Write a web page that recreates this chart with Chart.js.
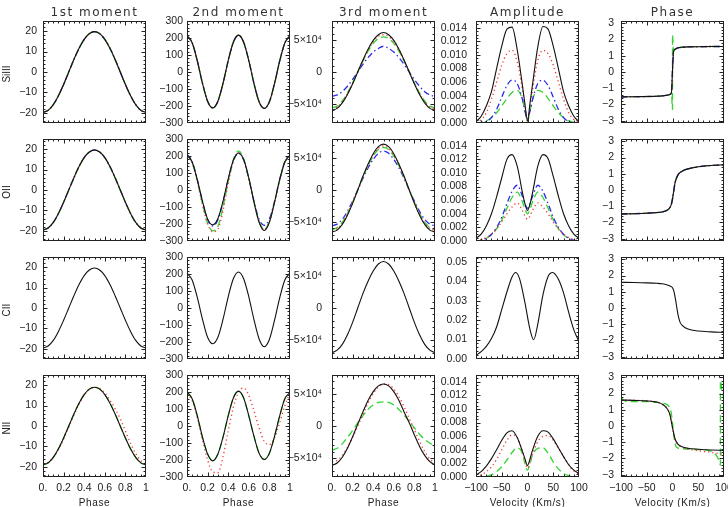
<!DOCTYPE html>
<html>
<head>
<meta charset="utf-8">
<script src="https://cdn.jsdelivr.net/npm/chart.js@4.4.1/dist/chart.umd.min.js"></script>
<style>
  body { margin: 0; background: #fff; }
  #wrap { position: relative; width: 728px; height: 507px; overflow: hidden; font-family: "Liberation Sans", Arial, sans-serif; color: #222; }
  #wrap canvas { position: absolute; }
  .ttl { position: absolute; font-family: "DejaVu Sans", sans-serif; font-size: 12px; letter-spacing: 1.5px; transform: translate(-50%, -50%); white-space: nowrap; color: #333; }
  .row { position: absolute; font-size: 10px; transform: translate(-50%, -50%) rotate(-90deg); white-space: nowrap; }
  .xt { position: absolute; font-size: 10px; letter-spacing: 0.6px; transform: translate(-50%, -50%); white-space: nowrap; }
</style>
</head>
<body>
<div id="wrap"></div>
<script>
// ---- x grids ----
const PHASE = [0, 0.05, 0.1, 0.15, 0.2, 0.25, 0.3, 0.35, 0.4, 0.45, 0.5, 0.55, 0.6, 0.65, 0.7, 0.75, 0.8, 0.85, 0.9, 0.95, 1];
const AMP_V = [-100, -90, -80, -70, -60, -50, -40, -30, -20, -10, -5, 0, 5, 10, 20, 30, 40, 50, 60, 70, 80, 90, 100];
const PH_V = [-100, -75, -50, -30, -20, -10, -5, -2, 0, 2, 5, 10, 20, 30, 50, 75, 100];

// ---- SiIII ----
const siM1 = [-19.8, -18.8, -16.0, -11.6, -6.1, 0.0, 6.1, 11.6, 16.0, 18.8, 19.8, 18.8, 16.0, 11.6, 6.1, 0.0, -6.1, -11.6, -16.0, -18.8, -19.8];
const siM2 = [213, 172, 66, -66, -172, -211, -172, -66, 67, 175, 217, 175, 67, -67, -175, -214, -175, -67, 65, 171, 213];
const siM3k = [-60000, -57000, -48500, -35300, -18500, 0, 18700, 35800, 49500, 58500, 62000, 58500, 49500, 35800, 18700, 0, -18500, -35300, -48500, -57000, -60000];
const siM3r = [-58000, -55000, -47000, -34000, -18000, 0, 18000, 34500, 47500, 56000, 58500, 56000, 47500, 34500, 18000, 0, -18000, -34000, -47000, -55000, -58000];
const siM3g = [-56000, -53500, -45500, -33000, -17300, 0, 17000, 32500, 44800, 52500, 55000, 52500, 44800, 32500, 17000, 0, -17300, -33000, -45500, -53500, -56000];
const siM3b = [-38000, -36000, -30800, -22300, -11700, 0, 11900, 22600, 31200, 37000, 40400, 37000, 31200, 22600, 11900, 0, -11700, -22300, -30800, -36000, -38000];
const siAk = [0.0002, 0.0010, 0.0025, 0.0046, 0.0080, 0.0113, 0.0138, 0.0141, 0.0108, 0.0056, 0.0028, 0.0003, 0.0030, 0.0058, 0.0112, 0.0142, 0.0138, 0.0113, 0.0080, 0.0046, 0.0025, 0.0010, 0.0002];
const siAr = [0.0001, 0.0005, 0.0015, 0.0035, 0.0060, 0.0085, 0.0102, 0.0107, 0.0090, 0.0050, 0.0025, 0.0003, 0.0025, 0.0050, 0.0092, 0.0107, 0.0102, 0.0085, 0.0060, 0.0035, 0.0015, 0.0005, 0.0001];
const siAb = [0.0000, 0.0000, 0.0002, 0.0008, 0.0020, 0.0038, 0.0055, 0.0063, 0.0058, 0.0035, 0.0018, 0.0006, 0.0018, 0.0035, 0.0058, 0.0063, 0.0055, 0.0038, 0.0020, 0.0008, 0.0002, 0.0000, 0.0000];
const siAg = [0.0000, 0.0001, 0.0003, 0.0008, 0.0015, 0.0025, 0.0036, 0.0045, 0.0048, 0.0035, 0.0018, 0.0002, 0.0018, 0.0035, 0.0048, 0.0045, 0.0036, 0.0025, 0.0015, 0.0008, 0.0003, 0.0001, 0.0000];
const siPk = [-1.53, -1.52, -1.51, -1.49, -1.47, -1.43, -1.38, -1.25, 0.10, 1.25, 1.40, 1.48, 1.53, 1.55, 1.56, 1.57, 1.57];
const siPgX = [-100, -75, -50, -30, -20, -10, -5, -2, 0, 0, 2, 5, 10, 20, 30, 50, 75, 100];
const siPgY = [-1.53, -1.52, -1.51, -1.49, -1.47, -1.43, -1.38, -1.30, -2.30, 2.30, 1.30, 1.40, 1.48, 1.53, 1.55, 1.56, 1.57, 1.57];

// ---- OII ----
const oM1 = [-19.6, -18.6, -15.9, -11.5, -6.0, 0.0, 6.0, 11.5, 15.9, 18.6, 19.6, 18.6, 15.9, 11.5, 6.0, 0.0, -6.0, -11.5, -15.9, -18.6, -19.6];
const oM2k = [205, 165, 60, -65, -170, -205, -168, -65, 65, 175, 218, 180, 70, -70, -190, -238, -190, -72, 62, 165, 205];
const oM2r = [205, 160, 50, -85, -200, -245, -230, -120, 40, 170, 220, 178, 68, -70, -185, -232, -185, -70, 60, 162, 205];
const oM2g = [205, 162, 55, -80, -195, -240, -215, -100, 50, 180, 230, 185, 72, -68, -185, -230, -185, -70, 60, 164, 205];
const oM2b = [210, 168, 62, -68, -175, -212, -175, -70, 62, 172, 215, 176, 66, -66, -172, -208, -170, -66, 62, 168, 210];
const oM3k = [-66000, -63000, -54000, -39500, -21000, 0, 21500, 40500, 57000, 68000, 72000, 68000, 57000, 40500, 21500, 0, -21000, -39500, -54000, -63000, -66000];
const oM3r = [-63500, -60500, -52000, -38000, -20000, 0, 20500, 39000, 54500, 65500, 69000, 65500, 54500, 39000, 20500, 0, -20000, -38000, -52000, -60500, -63500];
const oM3g = [-62000, -59000, -50500, -37000, -19500, 0, 20000, 38000, 53000, 63500, 67000, 63500, 53000, 38000, 20000, 0, -19500, -37000, -50500, -59000, -62000];
const oM3b = [-56000, -53500, -46000, -33500, -17500, 0, 18000, 34500, 48000, 57500, 61000, 57500, 48000, 34500, 18000, 0, -17500, -33500, -46000, -53500, -56000];
const oAk = [0.0004, 0.0010, 0.0022, 0.0040, 0.0065, 0.0093, 0.0120, 0.0127, 0.0110, 0.0072, 0.0055, 0.0045, 0.0055, 0.0072, 0.0110, 0.0127, 0.0121, 0.0095, 0.0066, 0.0040, 0.0022, 0.0010, 0.0004];
const oAr = [0.0001, 0.0002, 0.0005, 0.0010, 0.0018, 0.0028, 0.0040, 0.0050, 0.0056, 0.0045, 0.0037, 0.0032, 0.0037, 0.0045, 0.0056, 0.0050, 0.0040, 0.0028, 0.0018, 0.0010, 0.0005, 0.0002, 0.0001];
const oAb = [0.0000, 0.0001, 0.0004, 0.0010, 0.0020, 0.0035, 0.0055, 0.0073, 0.0082, 0.0066, 0.0055, 0.0048, 0.0055, 0.0066, 0.0082, 0.0073, 0.0055, 0.0035, 0.0020, 0.0010, 0.0004, 0.0001, 0.0000];
const oAg = [0.0000, 0.0001, 0.0004, 0.0009, 0.0018, 0.0031, 0.0048, 0.0064, 0.0072, 0.0058, 0.0047, 0.0040, 0.0047, 0.0058, 0.0072, 0.0064, 0.0048, 0.0031, 0.0018, 0.0009, 0.0004, 0.0001, 0.0000];
const oPk = [-1.48, -1.46, -1.43, -1.39, -1.35, -1.24, -1.08, -0.85, -0.55, -0.15, 0.45, 0.90, 1.18, 1.30, 1.43, 1.51, 1.55];

// ---- CII ----
const cM1 = [-19.6, -18.6, -15.9, -11.5, -6.0, 0.0, 6.0, 11.5, 15.9, 18.6, 19.6, 18.6, 15.9, 11.5, 6.0, 0.0, -6.0, -11.5, -15.9, -18.6, -19.6];
const cM2 = [205, 165, 62, -65, -172, -210, -172, -66, 66, 172, 212, 172, 66, -68, -182, -228, -185, -72, 60, 165, 205];
const cM3 = [-70000, -66000, -57000, -42000, -22500, 0, 22500, 42000, 58000, 69000, 73000, 69000, 58000, 42000, 22500, 0, -22500, -42000, -57000, -66000, -70000];
const cAmpV = [-100, -90, -80, -70, -60, -50, -40, -30, -23, -15, -5, 5, 12, 20, 30, 40, 49, 60, 70, 80, 90, 100];
const cA = [0.0019, 0.0038, 0.0065, 0.0105, 0.0165, 0.0255, 0.0345, 0.0422, 0.0445, 0.0410, 0.0290, 0.0150, 0.0099, 0.0180, 0.0330, 0.0425, 0.0445, 0.0410, 0.0340, 0.0240, 0.0150, 0.0089];
const cPhV = [-100, -75, -50, -30, -20, -10, -5, 0, 3, 6, 9, 12, 15, 20, 30, 50, 75, 100];
const cP = [1.58, 1.57, 1.55, 1.52, 1.49, 1.42, 1.36, 1.25, 1.00, 0.50, -0.10, -0.60, -0.90, -1.10, -1.30, -1.42, -1.47, -1.50];

// ---- NII ----
const nM1k = [-19.0, -18.1, -15.4, -11.2, -5.9, 0.0, 5.9, 11.2, 15.4, 18.1, 19.0, 18.1, 15.4, 11.2, 5.9, 0.0, -5.9, -11.2, -15.4, -18.1, -19.0];
const nM1r = [-18.5, -17.8, -15.3, -11.4, -6.3, -0.5, 5.4, 10.8, 15.2, 18.0, 19.0, 18.4, 16.2, 12.6, 8.5, 3.5, -2.5, -8.5, -13.5, -17.0, -18.6];
const nM2k = [200, 160, 60, -65, -165, -205, -165, -65, 60, 165, 205, 165, 60, -60, -160, -197, -160, -60, 60, 160, 197];
const nM2r = [190, 150, 50, -80, -200, -270, -275, -180, -30, 110, 200, 224, 180, 90, -10, -90, -110, -70, 20, 120, 195];
const nM3k = [-62000, -58000, -49000, -35000, -17000, 3000, 22000, 40000, 54000, 63000, 66000, 63000, 54000, 40000, 22000, 5000, -14000, -32000, -46000, -56000, -61000];
const nM3r = [-56000, -54000, -46000, -34000, -18000, 0, 18000, 36000, 51000, 61000, 66000, 65000, 58000, 46000, 30000, 12000, -6000, -24000, -40000, -52000, -58000];
const nM3g = [-37700, -35000, -28000, -18000, -7000, 5000, 16000, 26000, 33000, 37000, 38000, 37000, 33000, 26000, 17000, 7000, -3000, -13000, -21000, -27000, -30000];
const nAk = [0.0003, 0.0008, 0.0016, 0.0027, 0.0040, 0.0054, 0.0065, 0.0068, 0.0058, 0.0038, 0.0027, 0.0017, 0.0027, 0.0040, 0.0060, 0.0068, 0.0066, 0.0056, 0.0043, 0.0030, 0.0018, 0.0010, 0.0005];
const nAr = [0.0001, 0.0003, 0.0008, 0.0015, 0.0026, 0.0040, 0.0054, 0.0062, 0.0058, 0.0038, 0.0025, 0.0013, 0.0022, 0.0034, 0.0052, 0.0060, 0.0061, 0.0054, 0.0042, 0.0030, 0.0018, 0.0009, 0.0004];
const nAg = [0.0000, 0.0000, 0.0001, 0.0003, 0.0008, 0.0015, 0.0025, 0.0036, 0.0043, 0.0035, 0.0020, 0.0010, 0.0020, 0.0033, 0.0042, 0.0043, 0.0035, 0.0022, 0.0012, 0.0005, 0.0002, 0.0001, 0.0000];
const nPhV = [-100, -75, -50, -30, -20, -10, -5, 0, 5, 10, 20, 30, 50, 75, 100];
const nPk = [1.60, 1.58, 1.55, 1.47, 1.35, 1.05, 0.70, -0.10, -0.80, -1.10, -1.30, -1.37, -1.43, -1.48, -1.50];
const nPr = [1.60, 1.58, 1.55, 1.47, 1.35, 1.05, 0.70, -0.10, -0.80, -1.10, -1.32, -1.42, -1.52, -1.62, -1.75];
const nPgX = [-100, -95, -90, -75, -50, -30, -15, -8, -3, 0, 3, 6, 10, 20, 30, 50, 70, 80, 86, 90, 93, 93, 96, 100];
const nPgY = [1.75, 1.60, 1.52, 1.50, 1.50, 1.45, 1.38, 1.25, 0.90, 0.20, -0.70, -1.20, -1.35, -1.40, -1.42, -1.45, -1.50, -1.65, -1.85, -2.10, -2.40, 2.80, 2.20, 1.70];

// ---- ticks ----
const phaseTicks = [0, 0.2, 0.4, 0.6, 0.8, 1];
const phaseLabels = ['0.', '0.2', '0.4', '0.6', '0.8', '1'];
const velTicks = [-100, -50, 0, 50, 100];
const velLabels = ['\u2212100', '\u221250', '0', '50', '100'];
const m1Ticks = [-20, -10, 0, 10, 20];
const m1Labels = ['\u221220', '\u221210', '0', '10', '20'];
const m2Ticks = [-300, -200, -100, 0, 100, 200, 300];
const m2Labels = ['\u2212300', '\u2212200', '\u2212100', '0', '100', '200', '300'];
const m3Ticks = [-50000, 0, 50000];
const m3Labels = ['\u22125\u00d710\u2074', '0', '5\u00d710\u2074'];
const ampTicks = [0, 0.002, 0.004, 0.006, 0.008, 0.010, 0.012, 0.014];
const ampLabels = ['0.000', '0.002', '0.004', '0.006', '0.008', '0.010', '0.012', '0.014'];
const ampTicksC = [0, 0.01, 0.02, 0.03, 0.04, 0.05];
const ampLabelsC = ['0.00', '0.01', '0.02', '0.03', '0.04', '0.05'];
const phTicks = [-3, -2, -1, 0, 1, 2, 3];
const phLabels = ['\u22123', '\u22122', '\u22121', '0', '1', '2', '3'];

const colTitles = ['1st moment', '2nd moment', '3rd moment', 'Amplitude', 'Phase'];
const rowNames = ['SiIII', 'OII', 'CII', 'NII'];

// ---- layout ----
const COL_LEFT = [43, 187, 332, 476, 621];
const ROW_TOP = [21, 139, 257, 375];
const BOX_W = 103, BOX_H = 102;
const YW = 44, PT = 8, PR = 12, XH = 24;
const LABEL_PAD = [6, 4, 10, 9, 7];

const STY = {
    k: { color: '#111111', dash: [], w: 1.1 },
    r: { color: '#f23a3a', dash: [1.2, 3], w: 1.4 },
    g: { color: '#33d433', dash: [7, 4], w: 1.3 },
    b: { color: '#2a2ae6', dash: [6, 3, 1.5, 3], w: 1.3 }
};

const PH_AX = { xr: [0, 1], xt: phaseTicks, xl: phaseLabels, xm: 0.05 };
const VEL_AX = { xr: [-100, 100], xt: velTicks, xl: velLabels, xm: 10 };
const KIND = {
    m1: { ...PH_AX, yr: [-25, 25], yt: m1Ticks, yl: m1Labels, ym: 2 },
    m2: { ...PH_AX, yr: [-300, 300], yt: m2Ticks, yl: m2Labels, ym: 20 },
    m3: { ...PH_AX, yr: [-80000, 80000], yt: m3Ticks, yl: m3Labels, ym: 10000 },
    amp: { ...VEL_AX, yr: [0, 0.015], yt: ampTicks, yl: ampLabels, ym: 0.0005 },
    ampC: { ...VEL_AX, yr: [0, 0.0525], yt: ampTicksC, yl: ampLabelsC, ym: 0.002 },
    ph: { ...VEL_AX, yr: [-Math.PI, Math.PI], yt: phTicks, yl: phLabels, ym: 0.2 }
};

const PANELS = [
    // SiIII
    { r: 0, c: 0, kind: 'm1', s: [['k', PHASE, siM1], ['r', PHASE, siM1], ['g', PHASE, siM1], ['b', PHASE, siM1]] },
    { r: 0, c: 1, kind: 'm2', s: [['k', PHASE, siM2], ['r', PHASE, siM2], ['g', PHASE, siM2], ['b', PHASE, siM2]] },
    { r: 0, c: 2, kind: 'm3', s: [['k', PHASE, siM3k], ['r', PHASE, siM3r], ['g', PHASE, siM3g], ['b', PHASE, siM3b]] },
    { r: 0, c: 3, kind: 'amp', s: [['k', AMP_V, siAk], ['r', AMP_V, siAr], ['b', AMP_V, siAb], ['g', AMP_V, siAg]] },
    { r: 0, c: 4, kind: 'ph', s: [['k', PH_V, siPk], ['r', PH_V, siPk], ['b', PH_V, siPk], ['g', siPgX, siPgY]] },
    // OII
    { r: 1, c: 0, kind: 'm1', s: [['k', PHASE, oM1], ['r', PHASE, oM1], ['g', PHASE, oM1], ['b', PHASE, oM1]] },
    { r: 1, c: 1, kind: 'm2', s: [['k', PHASE, oM2k], ['r', PHASE, oM2r], ['g', PHASE, oM2g], ['b', PHASE, oM2b]] },
    { r: 1, c: 2, kind: 'm3', s: [['k', PHASE, oM3k], ['r', PHASE, oM3r], ['g', PHASE, oM3g], ['b', PHASE, oM3b]] },
    { r: 1, c: 3, kind: 'amp', s: [['k', AMP_V, oAk], ['r', AMP_V, oAr], ['b', AMP_V, oAb], ['g', AMP_V, oAg]] },
    { r: 1, c: 4, kind: 'ph', s: [['k', PH_V, oPk], ['r', PH_V, oPk], ['b', PH_V, oPk], ['g', PH_V, oPk]] },
    // CII
    { r: 2, c: 0, kind: 'm1', s: [['k', PHASE, cM1]] },
    { r: 2, c: 1, kind: 'm2', s: [['k', PHASE, cM2]] },
    { r: 2, c: 2, kind: 'm3', s: [['k', PHASE, cM3]] },
    { r: 2, c: 3, kind: 'ampC', s: [['k', cAmpV, cA]] },
    { r: 2, c: 4, kind: 'ph', s: [['k', cPhV, cP]] },
    // NII
    { r: 3, c: 0, kind: 'm1', s: [['k', PHASE, nM1k], ['r', PHASE, nM1r], ['g', PHASE, nM1k]] },
    { r: 3, c: 1, kind: 'm2', s: [['k', PHASE, nM2k], ['r', PHASE, nM2r], ['g', PHASE, nM2k]] },
    { r: 3, c: 2, kind: 'm3', s: [['k', PHASE, nM3k], ['r', PHASE, nM3r], ['g', PHASE, nM3g]] },
    { r: 3, c: 3, kind: 'amp', s: [['k', AMP_V, nAk], ['r', AMP_V, nAr], ['g', AMP_V, nAg]] },
    { r: 3, c: 4, kind: 'ph', s: [['k', nPhV, nPk], ['r', nPhV, nPr], ['g', nPgX, nPgY]] }
];

// IDL style box: frame plus inward major / minor ticks on all four sides
const idlFrame = {
    id: 'idlFrame',
    afterDraw(chart, args, o) {
        const { ctx, chartArea: a, scales: { x, y } } = chart;
        const L = Math.round(a.left) + 0.5, R = Math.round(a.right) - 0.5;
        const T = Math.round(a.top) + 0.5, B = Math.round(a.bottom) - 0.5;
        ctx.save();
        ctx.strokeStyle = '#222';
        ctx.lineWidth = 1;
        ctx.setLineDash([]);
        ctx.strokeRect(L, T, R - L, B - T);
        ctx.beginPath();
        const minors = (scale, step) => {
            const out = [];
            for (let v = Math.ceil(scale.min / step - 1e-6) * step; v <= scale.max + 1e-9; v += step) out.push(v);
            return out;
        };
        const xTick = (v, len) => {
            const px = Math.round(x.getPixelForValue(v)) + 0.5;
            if (px < L || px > R) return;
            ctx.moveTo(px, B); ctx.lineTo(px, B - len);
            ctx.moveTo(px, T); ctx.lineTo(px, T + len);
        };
        const yTick = (v, len) => {
            const py = Math.round(y.getPixelForValue(v)) + 0.5;
            if (py < T || py > B) return;
            ctx.moveTo(L, py); ctx.lineTo(L + len, py);
            ctx.moveTo(R, py); ctx.lineTo(R - len, py);
        };
        minors(x, o.xm).forEach(v => xTick(v, 2));
        minors(y, o.ym).forEach(v => yTick(v, 2));
        x.ticks.forEach(t => xTick(t.value, 4));
        y.ticks.forEach(t => yTick(t.value, 4));
        ctx.stroke();
        ctx.restore();
    }
};

const wrap = document.getElementById('wrap');
const tickFont = { family: '"Liberation Sans", Arial, sans-serif', size: 10.5 };

PANELS.forEach(p => {
    const k = KIND[p.kind];
    const bottom = p.r === 3;
    const cv = document.createElement('canvas');
    const w = YW + BOX_W + PR, h = PT + BOX_H + XH;
    cv.width = w; cv.height = h;
    cv.style.left = (COL_LEFT[p.c] - YW) + 'px';
    cv.style.top = (ROW_TOP[p.r] - PT) + 'px';
    wrap.appendChild(cv);

    const datasets = p.s.map(([key, xs, ys]) => ({
        data: xs.map((xv, i) => ({ x: xv, y: ys[i] })),
        borderColor: STY[key].color,
        borderDash: STY[key].dash,
        borderWidth: STY[key].w,
        pointRadius: 0,
        fill: false,
        cubicInterpolationMode: 'monotone'
    }));

    new Chart(cv, {
        type: 'line',
        data: { datasets },
        options: {
            responsive: false,
            animation: false,
            devicePixelRatio: 1,
            events: [],
            layout: { padding: { top: PT, right: PR, left: 0, bottom: 0 } },
            plugins: { legend: { display: false }, tooltip: { enabled: false }, idlFrame: { xm: k.xm, ym: k.ym } },
            scales: {
                x: {
                    type: 'linear', min: k.xr[0], max: k.xr[1], bounds: 'data',
                    grid: { display: false, drawTicks: false }, border: { display: false },
                    afterBuildTicks: s => { s.ticks = k.xt.map(v => ({ value: v })); },
                    afterFit: s => { s.height = XH; s.paddingLeft = 0; s.paddingRight = 0; },
                    ticks: {
                        display: bottom, autoSkip: false, maxRotation: 0, padding: 5,
                        font: tickFont, color: '#222',
                        callback: (v, i) => k.xl[i]
                    }
                },
                y: {
                    type: 'linear', min: k.yr[0], max: k.yr[1], bounds: 'data',
                    grid: { display: false, drawTicks: false }, border: { display: false },
                    afterBuildTicks: s => { s.ticks = k.yt.map(v => ({ value: v })); },
                    afterFit: s => { s.width = YW; s.paddingTop = 0; s.paddingBottom = 0; },
                    ticks: {
                        autoSkip: false, padding: LABEL_PAD[p.c],
                        font: tickFont, color: '#222',
                        callback: (v, i) => k.yl[i]
                    }
                }
            }
        },
        plugins: [idlFrame]
    });
});

// column titles, row names, axis titles
colTitles.forEach((t, c) => {
    const d = document.createElement('div');
    d.className = 'ttl';
    d.textContent = t;
    d.style.left = (COL_LEFT[c] + BOX_W / 2) + 'px';
    d.style.top = '12px';
    wrap.appendChild(d);
});
rowNames.forEach((t, r) => {
    const d = document.createElement('div');
    d.className = 'row';
    d.textContent = t;
    d.style.left = '6px';
    d.style.top = (ROW_TOP[r] + BOX_H / 2 + 2) + 'px';
    wrap.appendChild(d);
});
['Phase', 'Phase', 'Phase', 'Velocity (Km/s)', 'Velocity (Km/s)'].forEach((t, c) => {
    const d = document.createElement('div');
    d.className = 'xt';
    d.textContent = t;
    d.style.left = (COL_LEFT[c] + BOX_W / 2) + 'px';
    d.style.top = '502px';
    wrap.appendChild(d);
});
</script>
</body>
</html>
